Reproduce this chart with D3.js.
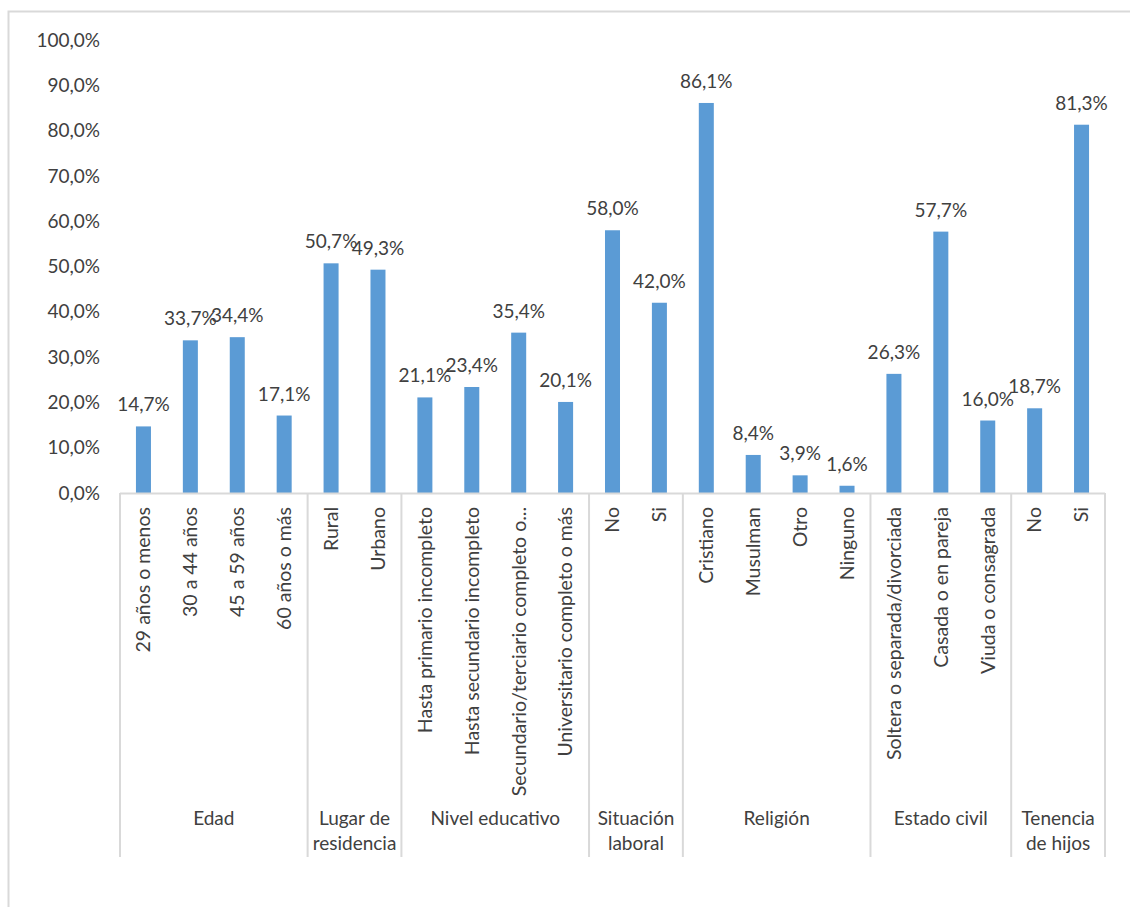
<!DOCTYPE html>
<html><head><meta charset="utf-8">
<script src="https://cdn.jsdelivr.net/npm/d3@7"></script>
<style>body{margin:0;background:#fff;} svg{display:block;}</style>
</head><body>
<script>
const groups = ["Edad","Lugar de residencia","Nivel educativo","Situación laboral","Religión","Estado civil","Tenencia de hijos"];
const groupLines = [["Edad"],["Lugar de","residencia"],["Nivel educativo"],["Situación","laboral"],["Religión"],["Estado civil"],["Tenencia","de hijos"]];
const categories = [
  ["29 años o menos","30 a 44 años","45 a 59 años","60 años o más"],
  ["Rural","Urbano"],
  ["Hasta primario incompleto","Hasta secundario incompleto","Secundario/terciario completo o...","Universitario completo o más"],
  ["No","Si"],
  ["Cristiano","Musulman","Otro","Ninguno"],
  ["Soltera o separada/divorciada","Casada o en pareja","Viuda o consagrada"],
  ["No","Si"]
];
const values = [
  [14.7,33.7,34.4,17.1],
  [50.7,49.3],
  [21.1,23.4,35.4,20.1],
  [58.0,42.0],
  [86.1,8.4,3.9,1.6],
  [26.3,57.7,16.0],
  [18.7,81.3]
];
const yTicks = [0,10,20,30,40,50,60,70,80,90,100];

(function(){
const W=1130,H=907;
const mL=120,mR=1105,mT=40,base=493,sepBottom=857;
const font="Lato, 'Open Sans', sans-serif";
const fmt = v => v.toFixed(1).replace(".",",")+"%";

const items=[];
categories.forEach((cs,gi)=>cs.forEach((c,ci)=>items.push({key:gi+"-"+ci,label:c,value:values[gi][ci],group:gi})));

const svg=d3.select("body").append("svg").attr("width",W).attr("height",H);
svg.append("rect").attr("x",8.5).attr("y",11.5).attr("width",1200).attr("height",1000)
  .attr("fill","#fff").attr("stroke","#d9d9d9").attr("stroke-width",2);

const x=d3.scaleBand().domain(items.map(d=>d.key)).range([mL,mR]).padding(0);
const y=d3.scaleLinear().domain([0,100]).range([base,mT]);
const bw=x.bandwidth()*0.32;

svg.append("g").selectAll("text").data(yTicks).join("text")
  .attr("x",100).attr("y",d=>y(d)).attr("dy","0.35em").attr("text-anchor","end")
  .attr("font-family",font).attr("font-size",19).attr("fill","#404040").text(d=>fmt(d));

svg.append("g").selectAll("rect").data(items).join("rect")
  .attr("x",d=>x(d.key)+x.bandwidth()/2-bw/2).attr("width",bw)
  .attr("y",d=>y(d.value)).attr("height",d=>base-y(d.value)).attr("fill","#5b9bd5");

svg.append("g").selectAll("text").data(items).join("text")
  .attr("x",d=>x(d.key)+x.bandwidth()/2).attr("y",d=>y(d.value)-15)
  .attr("text-anchor","middle").attr("font-family",font).attr("font-size",19).attr("fill","#404040")
  .text(d=>fmt(d.value));

svg.append("line").attr("x1",mL).attr("x2",mR).attr("y1",base+0.5).attr("y2",base+0.5)
  .attr("stroke","#d9d9d9").attr("stroke-width",2);

const bounds=[];let idx=0;
categories.forEach((cs,gi)=>{bounds.push({gi,start:items[idx].key,end:items[idx+cs.length-1].key});idx+=cs.length;});
const sepX=[mL].concat(bounds.map(b=>x(b.end)+x.bandwidth()));
svg.append("g").selectAll("line").data(sepX).join("line")
  .attr("x1",d=>d).attr("x2",d=>d).attr("y1",base).attr("y2",sepBottom)
  .attr("stroke","#d9d9d9").attr("stroke-width",2);

svg.append("g").selectAll("text").data(items).join("text")
  .attr("transform",d=>`translate(${x(d.key)+x.bandwidth()/2},507) rotate(-90)`)
  .attr("dy","0.35em").attr("text-anchor","end")
  .attr("font-family",font).attr("font-size",19.5).attr("fill","#404040").text(d=>d.label);

const gl=svg.append("g");
bounds.forEach(b=>{
  const cx=(x(b.start)+x(b.end)+x.bandwidth())/2;
  groupLines[b.gi].forEach((t,li)=>{
    gl.append("text").attr("x",cx).attr("y",818+li*25).attr("dy","0.35em").attr("text-anchor","middle")
      .attr("font-family",font).attr("font-size",19).attr("fill","#404040").text(t);
  });
});
})();
</script>
</body></html>
